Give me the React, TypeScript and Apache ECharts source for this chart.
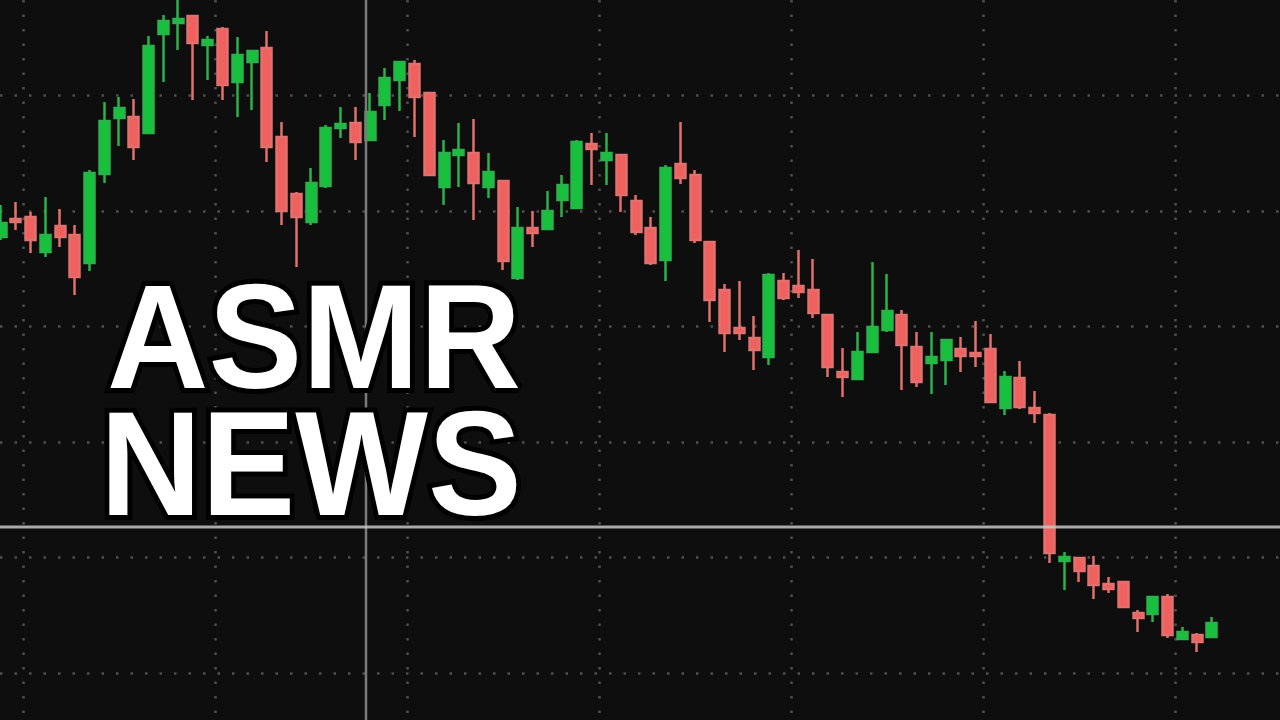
import React, { useEffect, useRef } from "react";
import * as echarts from "echarts";

// Each candle: [open, close, low, high]
const candles: number[][] = [
  [56.3, 57.7, 56.0, 59.5],
  [58.1, 57.8, 57.0, 59.8],
  [58.3, 56.0, 54.7, 58.8],
  [54.8, 56.5, 54.3, 60.3],
  [57.4, 56.3, 55.3, 59.1],
  [56.5, 52.3, 50.5, 57.5],
  [53.7, 62.7, 52.9, 63.0],
  [62.6, 67.9, 61.7, 69.8],
  [68.2, 69.2, 65.4, 70.3],
  [68.3, 65.3, 64.0, 70.1],
  [66.7, 75.4, 66.7, 76.4],
  [76.6, 77.9, 71.8, 78.5],
  [77.7, 78.1, 75.0, 80.0],
  [78.4, 75.7, 70.0, 78.5],
  [75.5, 76.0, 72.0, 76.4],
  [77.1, 71.5, 70.0, 77.3],
  [71.8, 74.5, 68.3, 76.3],
  [73.8, 74.9, 69.0, 74.9],
  [75.2, 65.3, 63.8, 76.9],
  [66.3, 58.9, 57.5, 67.8],
  [60.6, 58.3, 53.3, 60.8],
  [57.8, 61.7, 57.5, 63.2],
  [61.4, 67.2, 61.2, 67.5],
  [67.2, 67.6, 66.2, 69.3],
  [67.7, 65.8, 64.0, 69.3],
  [66.0, 68.8, 66.0, 70.7],
  [69.5, 72.2, 68.0, 73.2],
  [72.0, 73.8, 68.9, 73.8],
  [73.6, 70.3, 66.3, 74.0],
  [70.7, 62.5, 62.5, 70.8],
  [61.3, 64.7, 59.5, 66.0],
  [64.5, 65.0, 61.3, 67.7],
  [64.7, 61.7, 58.0, 68.1],
  [61.3, 62.8, 60.2, 64.7],
  [61.9, 53.9, 53.0, 61.9],
  [52.2, 57.2, 52.0, 59.3],
  [57.2, 56.7, 55.3, 58.9],
  [57.1, 58.9, 57.1, 60.9],
  [60.0, 61.5, 58.3, 62.5],
  [59.2, 65.8, 59.2, 66.0],
  [65.6, 65.1, 61.5, 66.7],
  [64.0, 64.7, 61.5, 66.7],
  [64.5, 60.5, 58.8, 64.5],
  [59.9, 56.8, 56.5, 60.5],
  [57.2, 53.7, 53.5, 58.3],
  [54.0, 63.2, 51.9, 63.5],
  [63.6, 62.2, 61.6, 67.8],
  [62.5, 56.0, 55.7, 63.0],
  [55.8, 50.0, 47.8, 55.8],
  [51.0, 46.7, 44.8, 51.6],
  [47.2, 46.7, 46.0, 51.9],
  [46.2, 45.0, 43.0, 48.4],
  [44.3, 52.5, 43.5, 52.7],
  [51.9, 50.2, 50.0, 52.7],
  [51.4, 50.8, 50.2, 55.0],
  [51.0, 48.7, 48.2, 54.1],
  [48.5, 43.3, 42.3, 48.5],
  [42.8, 42.3, 40.3, 45.2],
  [42.1, 44.8, 42.1, 46.8],
  [44.8, 47.3, 44.8, 53.8],
  [47.0, 48.9, 46.8, 52.6],
  [48.5, 45.5, 41.0, 49.0],
  [45.3, 41.8, 41.3, 46.8],
  [43.7, 44.3, 40.6, 46.8],
  [44.0, 46.0, 41.5, 46.0],
  [45.1, 44.4, 42.8, 46.3],
  [44.7, 44.4, 43.3, 47.9],
  [45.1, 39.8, 39.7, 46.6],
  [39.2, 42.3, 38.5, 42.9],
  [42.2, 39.3, 39.1, 43.9],
  [39.2, 38.7, 37.7, 40.9],
  [38.5, 24.7, 23.7, 38.7],
  [23.9, 24.3, 21.0, 24.8],
  [24.2, 22.9, 21.8, 24.3],
  [23.4, 21.5, 20.1, 24.4],
  [21.6, 21.1, 20.7, 22.3],
  [21.8, 19.3, 19.3, 21.8],
  [18.7, 18.2, 16.8, 19.0],
  [18.6, 20.3, 17.8, 20.3],
  [20.3, 16.5, 16.2, 20.6],
  [16.1, 16.8, 16.1, 17.3],
  [16.5, 15.8, 14.8, 16.7],
  [16.3, 17.7, 16.3, 18.3],
];

// Session slots on the time axis (the last few are still empty)
const SLOT_COUNT = 87;
const categories: string[] = Array.from({ length: SLOT_COUNT }, (_, i) => `T${i + 1}`);

const headlineLines = ["ASMR", "NEWS"];

const UP = "#16c23c";
const UP_EDGE = "#2ab34a";
const DOWN = "#f0605e";
const DOWN_EDGE = "#e0716e";
const GRID_DOT = "#4f4f4f";

export default function App() {
  const ref = useRef<HTMLDivElement>(null);

  useEffect(() => {
    if (!ref.current) return;
    const chart = echarts.init(ref.current, undefined, { renderer: "svg" });

    const dotted = {
      show: true,
      showMinLine: true,
      showMaxLine: true,
      lineStyle: { color: GRID_DOT, width: 2.5, type: [2.5, 12] as number[] },
    };
    const hiddenAxisParts = {
      axisLine: { show: false },
      axisTick: { show: false },
      axisLabel: { show: false },
    };

    const fontSpec = 'bold 148px "Liberation Sans", Arial, Helvetica, sans-serif';
    const textEls: any[] = [];
    const textPos = [
      { x: 107, y: 336.7 },
      { x: 100, y: 463.7 },
    ];
    headlineLines.forEach((t, i) => {
      textEls.push({
        type: "text",
        x: textPos[i].x,
        y: textPos[i].y,
        scaleX: 0.95,
        z: 100,
        style: {
          text: t,
          font: fontSpec,
          fill: "#000",
          stroke: "#000",
          lineWidth: 10,
          align: "left",
          verticalAlign: "middle",
        },
      });
      textEls.push({
        type: "text",
        x: textPos[i].x,
        y: textPos[i].y,
        scaleX: 0.95,
        z: 101,
        style: {
          text: t,
          font: fontSpec,
          fill: "#ffffff",
          align: "left",
          verticalAlign: "middle",
        },
      });
    });

    const option: any = {
      animation: false,
      backgroundColor: "#0e0e0e",
      grid: [
        // candles
        { left: 1, right: 9, top: 0, bottom: 0, show: false },
        // horizontal dotted lines, full width
        { left: 0, right: 0, top: 95.5, bottom: 47, show: false },
        // vertical dotted lines, full height
        { left: 23.3, right: 104.7, top: 0, bottom: 0, show: false },
      ],
      xAxis: [
        {
          type: "category",
          gridIndex: 0,
          data: categories,
          boundaryGap: false,
          ...hiddenAxisParts,
          splitLine: { show: false },
        },
        {
          type: "value",
          gridIndex: 1,
          min: 0,
          max: 1,
          ...hiddenAxisParts,
          splitLine: { show: false },
        },
        {
          type: "value",
          gridIndex: 2,
          min: 0,
          max: 6,
          interval: 1,
          ...hiddenAxisParts,
          splitLine: dotted,
        },
      ],
      yAxis: [
        {
          type: "value",
          gridIndex: 0,
          min: 8,
          max: 80,
          ...hiddenAxisParts,
          splitLine: { show: false },
        },
        {
          type: "value",
          gridIndex: 1,
          min: 0,
          max: 5,
          interval: 1,
          ...hiddenAxisParts,
          splitLine: dotted,
        },
        {
          type: "value",
          gridIndex: 2,
          min: 0,
          max: 1,
          ...hiddenAxisParts,
          splitLine: { show: false },
        },
      ],
      series: [
        {
          type: "candlestick",
          xAxisIndex: 0,
          yAxisIndex: 0,
          data: candles,
          barWidth: 10.5,
          clip: false,
          itemStyle: {
            color: UP,
            color0: DOWN,
            borderColor: UP_EDGE,
            borderColor0: DOWN_EDGE,
            borderWidth: 2.5,
          },
        },
      ],
      graphic: {
        elements: [
          {
            type: "line",
            z: 50,
            shape: { x1: 366, y1: 0, x2: 366, y2: 720 },
            style: { stroke: "#7b7b7b", lineWidth: 2.5 },
          },
          {
            type: "line",
            z: 50,
            shape: { x1: 0, y1: 527, x2: 1280, y2: 527 },
            style: { stroke: "#c6c6c6", lineWidth: 3, opacity: 0.85 },
          },
          ...textEls,
        ],
      },
    };

    chart.setOption(option);
    return () => chart.dispose();
  }, []);

  return (
    <div
      ref={ref}
      style={{ position: "fixed", left: 0, top: 0, width: 1280, height: 720, background: "#0e0e0e" }}
    />
  );
}
